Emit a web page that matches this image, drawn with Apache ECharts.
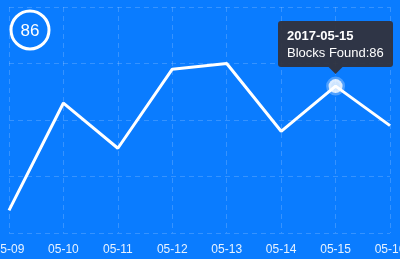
<!DOCTYPE html>
<html><head><meta charset="utf-8">
<script src="https://cdn.jsdelivr.net/npm/echarts@6/dist/echarts.min.js"></script>
<style>html,body{margin:0;padding:0;background:#0a7cff;}#c{width:400px;height:259px;}</style>
</head><body><div id="c"></div>
<script>
var categories = ['05-09','05-10','05-11','05-12','05-13','05-14','05-15','05-16'];
var fullDates = ['2017-05-09','2017-05-10','2017-05-11','2017-05-12','2017-05-13','2017-05-14','2017-05-15','2017-05-16'];
var blocksFound = [64, 83, 75, 89, 90, 78, 86, 79];
var yTicks = [60, 70, 80, 90, 100];
var highlightIndex = 6;

var FONT = '"Liberation Sans", Arial, Helvetica, sans-serif';
var TIP_BG = 'rgba(50,50,60,0.95)';
var chart = echarts.init(document.getElementById('c'));
var gridLine = {show:true, lineStyle:{color:'rgba(255,255,255,0.18)', type:[5,4], width:1}};
chart.setOption({
  backgroundColor:'#0a7cff',
  animation:false,
  grid:{left:9, right:10, top:7, bottom:26, outerBoundsMode:'none', containLabel:false},
  tooltip:{
    trigger:'item',
    backgroundColor:TIP_BG,
    borderWidth:0,
    borderRadius:3,
    padding:[6,9,6,9],
    extraCssText:'box-shadow:none;line-height:17px;',
    textStyle:{color:'#fff', fontSize:13, fontFamily:FONT},
    position:function(point, params, dom, rect, size){
      var px = chart.convertToPixel({gridIndex:0}, params.value);
      return [px[0] - size.contentSize[0]/2, px[1] - size.contentSize[1] - 19];
    },
    formatter:function(p){
      var i = p.value[0];
      return '<div style="color:#fff;font-size:13px;line-height:17px;">'
        + '<b>'+fullDates[i]+'</b><br/>Blocks Found:'+p.value[1]
        + '</div>';
    }
  },
  xAxis:{
    type:'category', data:categories, boundaryGap:false,
    axisLine:{show:false}, axisTick:{show:false},
    axisLabel:{color:'rgba(255,255,255,0.9)', fontSize:12, margin:11, fontFamily:FONT, showMinLabel:true, showMaxLabel:true, interval:0},
    splitLine:gridLine
  },
  yAxis:{
    type:'value', min:yTicks[0], max:yTicks[yTicks.length-1], interval:10,
    axisLine:{show:false}, axisTick:{show:false}, axisLabel:{show:false},
    splitLine:gridLine
  },
  graphic:[
    {id:'badgeRing', type:'circle', shape:{cx:30, cy:30, r:19}, style:{fill:'none', stroke:'#fff', lineWidth:3}},
    {id:'badgeText', type:'text', style:{text:String(blocksFound[highlightIndex]), x:30, y:31, align:'center', verticalAlign:'middle', fill:'#fff', font:'17px "Liberation Sans", Arial, sans-serif'}}
  ],
  series:[{
    type:'line', data:blocksFound, showSymbol:false, silent:true,
    lineStyle:{color:'#fff', width:3}, tooltip:{show:false}
  },{
    type:'scatter',
    data:[[highlightIndex, blocksFound[highlightIndex]]],
    symbolSize:14,
    itemStyle:{color:'#fff', borderColor:'rgba(255,255,255,0.35)', borderWidth:5}
  }]
});
// tooltip arrow, anchored to the highlighted point
var pt = chart.convertToPixel({gridIndex:0}, [highlightIndex, blocksFound[highlightIndex]]);
chart.setOption({graphic:[{
  id:'tipArrow', type:'polygon', silent:true, z:100,
  shape:{points:[[pt[0]-7, pt[1]-19], [pt[0]+7, pt[1]-19], [pt[0], pt[1]-12]]},
  style:{fill:TIP_BG}
}]});
chart.dispatchAction({type:'showTip', seriesIndex:1, dataIndex:0});
</script></body></html>
